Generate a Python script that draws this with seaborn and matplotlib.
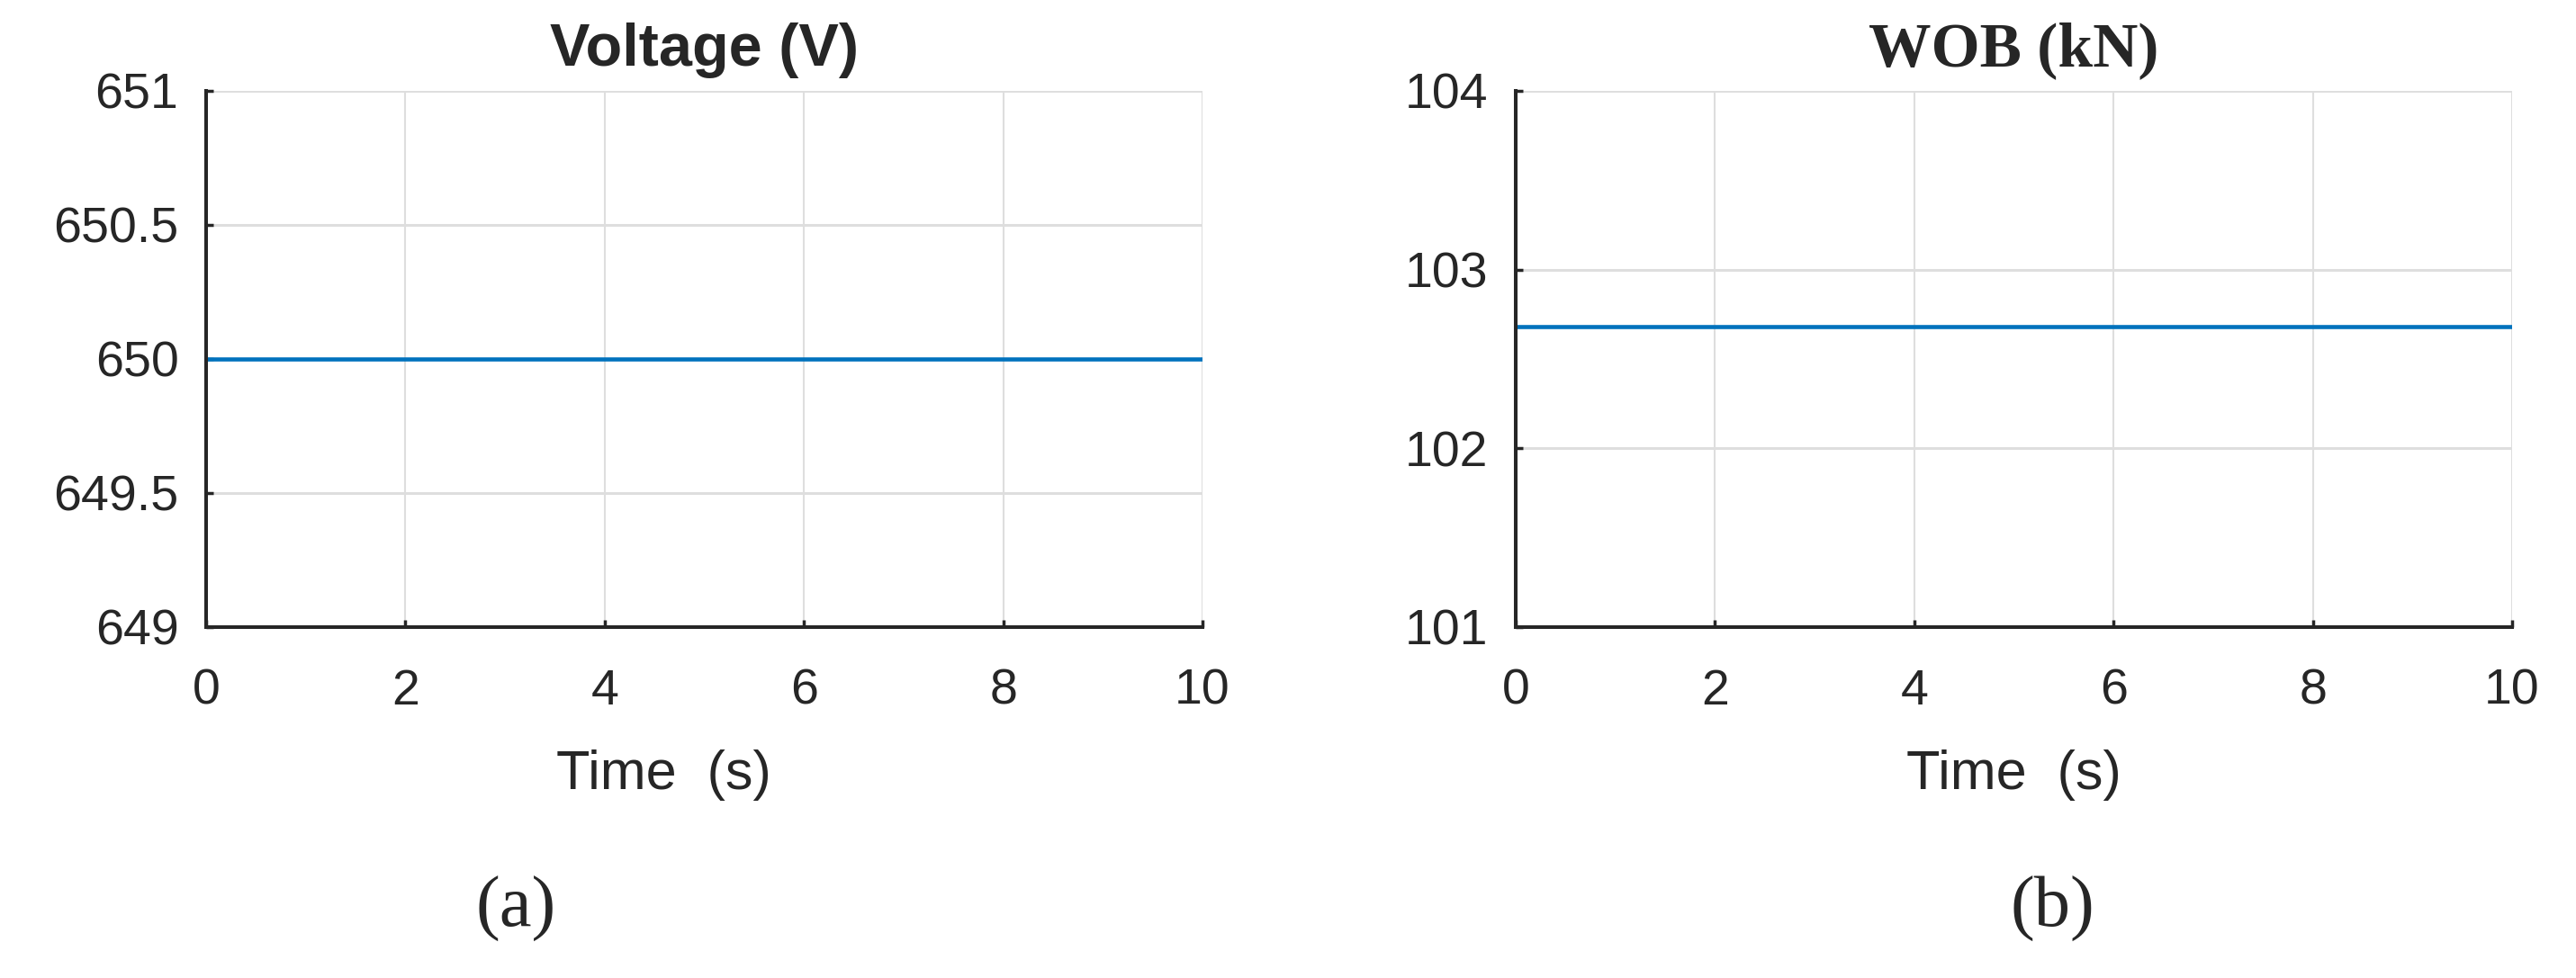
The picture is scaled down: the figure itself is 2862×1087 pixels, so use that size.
import matplotlib
matplotlib.use('Agg')
import matplotlib.pyplot as plt
import seaborn as sns
import pandas as pd

# data
time_s = [0, 10]
voltage_v = [650, 650]
wob_kn = [102.68, 102.68]

volt_ticks = [649, 649.5, 650, 650.5, 651]
volt_labels = ['649', '649.5', '650', '650.5', '651']
wob_ticks = [101, 102, 103, 104]
time_ticks = [0, 2, 4, 6, 8, 10]

sns.set_theme(style='white')
plt.rcParams['font.family'] = ['Liberation Sans', 'DejaVu Sans']

blue = '#0072BD'
dark = '#262626'

fig = plt.figure(figsize=(28.62, 10.87), dpi=100)
ax1 = fig.add_axes([0.0800, 0.3588, 0.3868, 0.5483])
ax2 = fig.add_axes([0.5884, 0.3588, 0.3868, 0.5483])

df = pd.DataFrame({'time': time_s, 'voltage': voltage_v, 'wob': wob_kn})
sns.lineplot(data=df, x='time', y='voltage', ax=ax1, color=blue, linewidth=3.3)
sns.lineplot(data=df, x='time', y='wob', ax=ax2, color=blue, linewidth=3.3)


def style_axes(ax, yticks, ylabels, ylim):
	ax.set_xlim(0, 10)
	ax.set_ylim(*ylim)
	ax.set_xticks(time_ticks)
	ax.set_xticklabels([str(t) for t in time_ticks])
	ax.set_yticks(yticks)
	ax.set_yticklabels(ylabels)
	ax.yaxis.grid(True, color='#dedede', linewidth=2.2)
	ax.xaxis.grid(True, color='#dedede', linewidth=1.5)
	ax.set_axisbelow(True)
	for side in ['top', 'right']:
		ax.spines[side].set_visible(False)
	for side in ['left', 'bottom']:
		ax.spines[side].set_color(dark)
		ax.spines[side].set_linewidth(2.9)
	ax.tick_params(axis='both', direction='in', length=6, width=2.5,
				   color=dark, labelcolor=dark, labelsize=40)
	ax.tick_params(axis='x', pad=33, bottom=True)
	ax.tick_params(axis='y', pad=22, left=True)
	ax.set_xlabel('Time  (s)', fontsize=44, color=dark, labelpad=30)
	ax.set_ylabel('')


style_axes(ax1, volt_ticks, volt_labels, (649, 651))
style_axes(ax2, wob_ticks, [str(t) for t in wob_ticks], (101, 104))

# the left x label sits a little left of centre in the original
ax1.xaxis.set_label_coords(0.459, -0.228)
ax2.xaxis.set_label_coords(0.5, -0.228)

ax1.set_title('Voltage (V)', fontsize=48, fontweight='bold', pad=20,
			  family=['Liberation Sans Narrow', 'Liberation Sans', 'DejaVu Sans'])
ax2.set_title('WOB (kN)', fontsize=50, fontweight='bold', pad=20,
			  family=['Liberation Serif', 'DejaVu Serif'])

fig.text(573 / 2862, 1 - 1010 / 1087, '(a)', fontsize=58, ha='center', va='center',
		 family=['Liberation Serif', 'DejaVu Serif'])
fig.text(2280 / 2862, 1 - 1010 / 1087, '(b)', fontsize=58, ha='center', va='center',
		 family=['Liberation Serif', 'DejaVu Serif'])

fig.savefig('out.png', dpi=100, facecolor='white')
